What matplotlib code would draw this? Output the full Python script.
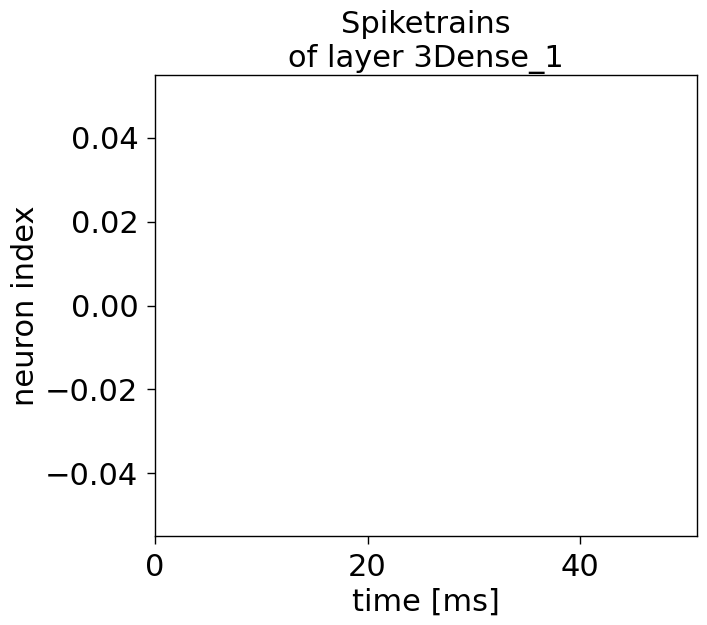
import matplotlib
matplotlib.use("Agg")
import matplotlib.pyplot as plt

# Data: no spikes in this layer
spike_times = []
neuron_ids = []
duration = 51
title = "Spiketrains\nof layer 3Dense_1"
xlabel = "time [ms]"
ylabel = "neuron index"

plt.rcParams['font.size'] = 22
plt.rcParams['axes.linewidth'] = 1.0
for a in ('xtick', 'ytick'):
    plt.rcParams[f'{a}.major.size'] = 6
    plt.rcParams[f'{a}.major.pad'] = 6
    plt.rcParams[f'{a}.major.width'] = 1.0

fig = plt.figure(figsize=(7.07, 6.25), dpi=100)
ax = fig.add_axes([155/707, 1-536/625, (697-155)/707, (536-75)/625])
ax.scatter(spike_times, neuron_ids, s=1)
ax.set_xlim(0, duration)
ax.set_title(title, fontsize=22)
ax.set_xlabel(xlabel)
ax.set_ylabel(ylabel)
fig.savefig("out.png", dpi=100)
